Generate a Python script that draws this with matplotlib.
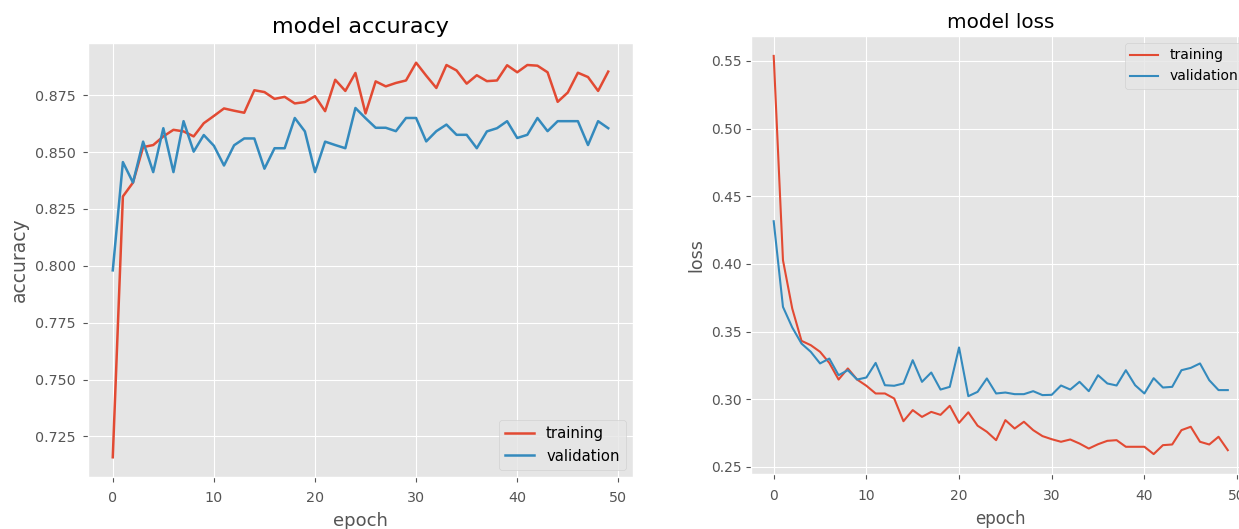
import matplotlib
matplotlib.use("Agg")
import matplotlib.pyplot as plt
import numpy as np

plt.style.use("ggplot")

epochs = list(range(50))

acc_train = [0.7158, 0.8305, 0.8366, 0.8522, 0.8531, 0.8569, 0.8598, 0.8591, 0.8569, 0.8627,
             0.8659, 0.8692, 0.8682, 0.8673, 0.8772, 0.8764, 0.8734, 0.8743, 0.8714, 0.8720,
             0.8746, 0.8680, 0.8818, 0.8769, 0.8848, 0.8670, 0.8811, 0.8789, 0.8804, 0.8815,
             0.8893, 0.8836, 0.8782, 0.8883, 0.8859, 0.8801, 0.8838, 0.8812, 0.8815, 0.8882,
             0.8851, 0.8883, 0.8880, 0.8851, 0.8721, 0.8762, 0.8849, 0.8830, 0.8769, 0.8854]
acc_val = [0.7980, 0.8456, 0.8366, 0.8546, 0.8412, 0.8605, 0.8412, 0.8636, 0.8502, 0.8575,
           0.8528, 0.8441, 0.8530, 0.8560, 0.8560, 0.8427, 0.8517, 0.8517, 0.8650, 0.8591,
           0.8412, 0.8546, 0.8531, 0.8517, 0.8694, 0.8649, 0.8607, 0.8607, 0.8592, 0.8650,
           0.8650, 0.8547, 0.8592, 0.8621, 0.8576, 0.8576, 0.8517, 0.8591, 0.8605, 0.8636,
           0.8562, 0.8576, 0.8650, 0.8592, 0.8636, 0.8636, 0.8636, 0.8531, 0.8636, 0.8605]

loss_train = [0.5537, 0.4027, 0.3670, 0.3431, 0.3399, 0.3350, 0.3268, 0.3145, 0.3227, 0.3145,
              0.3099, 0.3042, 0.3042, 0.3005, 0.2837, 0.2919, 0.2869, 0.2906, 0.2884, 0.2951,
              0.2825, 0.2903, 0.2804, 0.2759, 0.2697, 0.2845, 0.2783, 0.2833, 0.2771, 0.2727,
              0.2704, 0.2685, 0.2702, 0.2672, 0.2635, 0.2667, 0.2692, 0.2697, 0.2648, 0.2648,
              0.2648, 0.2594, 0.2660, 0.2665, 0.2771, 0.2796, 0.2685, 0.2665, 0.2722, 0.2623]
loss_val = [0.4315, 0.3682, 0.3530, 0.3411, 0.3350, 0.3264, 0.3300, 0.3177, 0.3214, 0.3145,
            0.3160, 0.3268, 0.3103, 0.3099, 0.3116, 0.3288, 0.3128, 0.3197, 0.3071, 0.3091,
            0.3382, 0.3022, 0.3054, 0.3153, 0.3042, 0.3049, 0.3037, 0.3037, 0.3059, 0.3030,
            0.3032, 0.3101, 0.3071, 0.3128, 0.3059, 0.3177, 0.3116, 0.3101, 0.3214, 0.3103,
            0.3042, 0.3155, 0.3086, 0.3091, 0.3214, 0.3231, 0.3264, 0.3140, 0.3067, 0.3067]

legend_labels = ["training", "validation"]

W, H = 1239, 529
fig = plt.figure(figsize=(W / 100, H / 100), dpi=100)

def frac(x0, y0, x1, y1):
    return [x0 / W, 1 - y1 / H, (x1 - x0) / W, (y1 - y0) / H]

# Left: accuracy
ax1 = fig.add_axes(frac(88, 43, 633, 477))
ax1.plot(epochs, acc_train, lw=1.8)
ax1.plot(epochs, acc_val, lw=1.8)
ax1.set_title("model accuracy", fontsize=16, pad=7)
ax1.set_ylabel("accuracy", fontsize=13.5)
ax1.set_xlabel("epoch", fontsize=13, labelpad=5)
ax1.tick_params(labelsize=10.3)
ax1.tick_params(axis="x", pad=6.5)
ax1.tick_params(axis="y", pad=5.5)
ax1.legend(legend_labels, loc="lower right", fontsize=10.7)

# Right: loss
ax2 = fig.add_axes(frac(751, 36, 1250.5, 474))
ax2.plot(epochs, loss_train, lw=1.5)
ax2.plot(epochs, loss_val, lw=1.5)
ax2.set_title("model loss", fontsize=14.4)
ax2.set_ylabel("loss", fontsize=12.5)
ax2.set_xlabel("epoch", fontsize=12, labelpad=5)
ax2.tick_params(labelsize=10)
ax2.tick_params(axis="x", pad=7)
ax2.legend(legend_labels, loc="upper right", fontsize=10)

fig.savefig("out.png", dpi=100)
